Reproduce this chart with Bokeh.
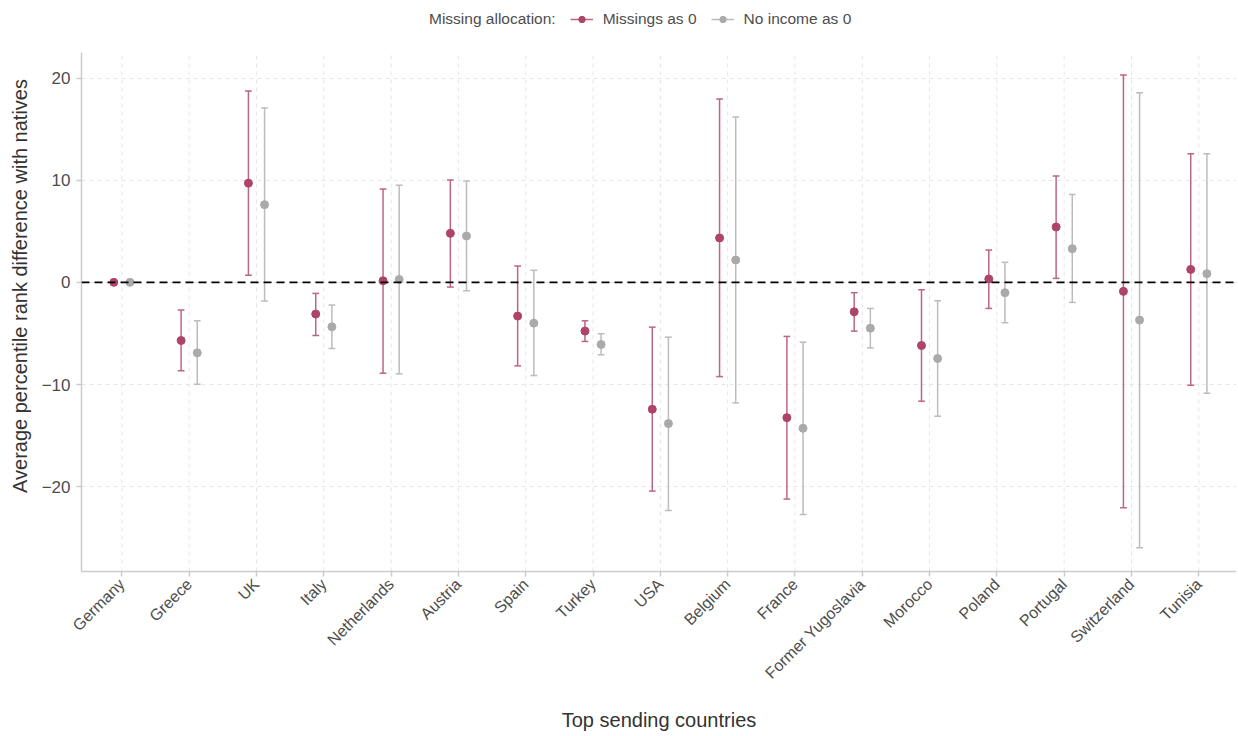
import numpy as np
from bokeh.plotting import figure
from bokeh.models import (ColumnDataSource, FixedTicker, Range1d, Span, Legend, LegendItem)
from bokeh.embed import file_html
from bokeh.resources import INLINE

countries = ["Germany", "Greece", "UK", "Italy", "Netherlands", "Austria", "Spain", "Turkey",
             "USA", "Belgium", "France", "Former Yugoslavia", "Morocco", "Poland", "Portugal",
             "Switzerland", "Tunisia"]

miss_est = [0, -5.69, 9.71, -3.10, 0.16, 4.80, -3.30, -4.77, -12.42, 4.35, -13.24, -2.88, -6.18, 0.33, 5.42, -0.88, 1.27]
miss_lo = [0, -8.66, 0.69, -5.20, -8.89, -0.46, -8.17, -5.78, -20.43, -9.22, -21.21, -4.77, -11.63, -2.55, 0.39, -22.06, -10.07]
miss_hi = [0, -2.71, 18.73, -1.08, 9.15, 10.03, 1.60, -3.76, -4.38, 17.94, -5.29, -1.01, -0.72, 3.17, 10.42, 20.29, 12.58]

noinc_est = [0, -6.90, 7.61, -4.35, 0.29, 4.54, -3.99, -6.08, -13.82, 2.19, -14.28, -4.48, -7.45, -1.01, 3.30, -3.69, 0.85]
noinc_lo = [0, -9.97, -1.83, -6.47, -8.95, -0.82, -9.12, -7.09, -22.32, -11.80, -22.71, -6.41, -13.10, -3.95, -1.96, -25.98, -10.85]
noinc_hi = [0, -3.76, 17.06, -2.22, 9.51, 9.93, 1.18, -5.03, -5.36, 16.18, -5.85, -2.55, -1.80, 1.96, 8.59, 18.56, 12.58]

legend_title = "Missing allocation:"
series_names = ["Missings as 0", "No income as 0"]
y_ticks = [-20, -10, 0, 10, 20]

FONT = "Liberation Sans"
TXT = "#4D4D4D"
RED_PT, RED_LN = "#AE4468", "#BD6584"
GRY_PT, GRY_LN = "#AAAAAA", "#BCBCBC"

Y_LO, Y_HI = -28.3, 22.5          # data panel extent
Y_TOP = 27.59                     # frame extends above data panel to host the legend
FRAME_W, FRAME_H = 1155, 571

p = figure(frame_width=FRAME_W, frame_height=FRAME_H, output_backend="svg", toolbar_location=None,
           x_range=Range1d(0.4, 17.56), y_range=Range1d(Y_LO, Y_TOP))
p.min_border_left = 81
p.min_border_right = 0
p.min_border_top = 0
p.min_border_bottom = 160
p.outline_line_color = None
p.background_fill_color = "white"
p.border_fill_color = "white"

xs = np.arange(1, len(countries) + 1)
dodge = 0.12
cap = 0.05

# vertical grid lines limited to the data panel
p.xgrid.visible = False
p.segment(x0=xs, y0=[Y_LO] * len(xs), x1=xs, y1=[Y_HI] * len(xs),
          line_color="#E6E6E6", line_width=1, line_dash="4 4")

def add_series(est, lo, hi, offset, pt_col, ln_col):
    x = xs + offset
    lo = np.array(lo); hi = np.array(hi)
    m = lo != hi
    src_bar = ColumnDataSource(dict(x=x[m], lo=lo[m], hi=hi[m],
                                    x0=x[m] - cap, x1=x[m] + cap))
    seg = p.segment(x0="x", y0="lo", x1="x", y1="hi", source=src_bar,
                    line_color=ln_col, line_width=1.5)
    p.segment(x0="x0", y0="lo", x1="x1", y1="lo", source=src_bar, line_color=ln_col, line_width=1.5)
    p.segment(x0="x0", y0="hi", x1="x1", y1="hi", source=src_bar, line_color=ln_col, line_width=1.5)
    pts = p.scatter(x=x, y=est, size=8, fill_color=pt_col, line_color=pt_col)
    return seg, pts

zero = Span(location=0, dimension="width", line_color="black", line_width=1.8, line_dash="8 5")
p.add_layout(zero)

r1 = add_series(miss_est, miss_lo, miss_hi, -dodge, RED_PT, RED_LN)
r2 = add_series(noinc_est, noinc_lo, noinc_hi, dodge, GRY_PT, GRY_LN)

# invisible renderer used only to hold the legend title as an item
ghost = p.scatter(x=[], y=[], fill_alpha=0, line_alpha=0)

# axes
p.xaxis.ticker = FixedTicker(ticks=list(xs))
p.xaxis.major_label_overrides = {int(i): c for i, c in zip(xs, countries)}
p.xaxis.major_label_orientation = np.pi / 4
p.yaxis.ticker = FixedTicker(ticks=y_ticks)
p.yaxis.major_label_overrides = {t: (str(t).replace("-", "\u2212")) for t in y_ticks}
p.yaxis.bounds = (Y_LO, Y_HI)

for ax in (p.xaxis[0], p.yaxis[0]):
    ax.axis_line_color = "#CCCCCC"
    ax.axis_line_width = 1.5
    ax.major_tick_line_color = "#CCCCCC"
    ax.major_tick_line_width = 1.5
    ax.major_tick_out = 5
    ax.major_tick_in = 0
    ax.minor_tick_line_color = None
    ax.major_label_text_font = FONT
    ax.major_label_text_font_size = "16px"
    ax.major_label_text_color = TXT
    ax.axis_label_text_font = FONT
    ax.axis_label_text_font_size = "20px"
    ax.axis_label_text_font_style = "normal"
    ax.axis_label_text_color = "#333333"

p.yaxis.major_label_text_font_size = "17px"
p.xaxis.axis_label = "Top sending countries"
p.yaxis.axis_label = "Average percentile rank difference with natives"
p.xaxis.major_label_standoff = 5
p.yaxis.major_label_standoff = 6
p.xaxis.axis_label_standoff = 18
p.yaxis.axis_label_standoff = 8

p.ygrid.grid_line_color = "#E6E6E6"
p.ygrid.grid_line_dash = "4 4"
p.ygrid.grid_line_width = 1

legend = Legend(items=[LegendItem(label=legend_title, renderers=[ghost]),
                       LegendItem(label=series_names[0], renderers=[r1[0], r1[1]]),
                       LegendItem(label=series_names[1], renderers=[r2[0], r2[1]])],
                orientation="horizontal", location=(315, FRAME_H - 28))
legend.label_text_font = FONT
legend.label_text_font_size = "15.5px"
legend.label_text_color = TXT
legend.border_line_color = None
legend.background_fill_alpha = 0
legend.glyph_width = 23
legend.glyph_height = 16
legend.label_height = 16
legend.label_standoff = 10
legend.spacing = 14
legend.padding = 2
legend.margin = 0
p.add_layout(legend, "center")

open("out.html", "w").write(file_html(p, INLINE))
